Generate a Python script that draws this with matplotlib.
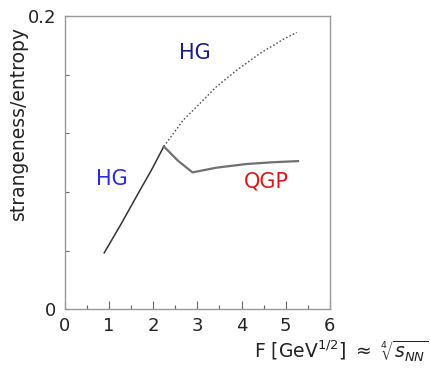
import matplotlib
matplotlib.use("Agg")
import matplotlib.pyplot as plt
from matplotlib.ticker import MultipleLocator

# hadron gas branch below the transition (solid)
hg_x = [0.89, 1.28, 1.66, 1.96, 2.24]
hg_y = [0.0384, 0.0585, 0.079, 0.0949, 0.111]

# hadron gas continuation above the transition (dotted)
hg_ext_x = [2.24, 2.68, 3.06, 3.43, 3.89, 4.42, 4.94, 5.25]
hg_ext_y = [0.111, 0.129, 0.1404, 0.1517, 0.163, 0.1745, 0.184, 0.1888]

# QGP branch
qgp_x = [2.24, 2.57, 2.89, 3.43, 4.11, 4.7, 5.28]
qgp_y = [0.111, 0.101, 0.0933, 0.0965, 0.099, 0.1002, 0.101]

fig = plt.figure(figsize=(4.3, 3.72), dpi=100)
ax = fig.add_axes([0.151, 0.169, 0.616, 0.788])

ax.plot(hg_x, hg_y, color="#333333", lw=1.1)
ax.plot(hg_ext_x, hg_ext_y, color="#555555", lw=1.0, ls=(0, (1.2, 1.5)))
ax.plot(qgp_x, qgp_y, color="#707070", lw=1.6)

ax.text(2.94, 0.175, "HG", color="#1a1a8c", fontsize=15, ha="center", va="center")
ax.text(1.06, 0.0887, "HG", color="#2a2ae6", fontsize=15, ha="center", va="center")
ax.text(4.57, 0.0869, "QGP", color="#d41a1a", fontsize=15, ha="center", va="center")

ax.set_xlim(0, 6)
ax.set_ylim(0, 0.2)
ax.xaxis.set_major_locator(MultipleLocator(1))
ax.xaxis.set_minor_locator(MultipleLocator(0.5))
ax.set_yticks([0, 0.04, 0.08, 0.12, 0.16, 0.2])
ax.set_yticklabels(["0", "", "", "", "", "0.2"])

ax.tick_params(axis="x", which="major", direction="in", length=6, width=0.8,
               color="#666666", labelsize=13, labelcolor="#222222", pad=6)
ax.tick_params(axis="x", which="minor", direction="in", length=3, width=0.8,
               color="#666666")
ax.tick_params(axis="y", which="major", direction="in", length=3, width=0.8,
               color="#666666", labelsize=13, labelcolor="#222222", pad=6)
for s in ax.spines.values():
    s.set_color("#999999")
    s.set_linewidth(1.0)

fig.text(0.044, 0.67, "strangeness/entropy", rotation=90, fontsize=13.5,
         ha="center", va="center", color="#222222")
fig.text(0.997, 0.038, r"F [GeV$^{1/2}$] $\approx$ $\sqrt[4]{s_{NN}}$",
         fontsize=13.5, ha="right", va="baseline", color="#222222")

fig.savefig("out.png", dpi=100)
